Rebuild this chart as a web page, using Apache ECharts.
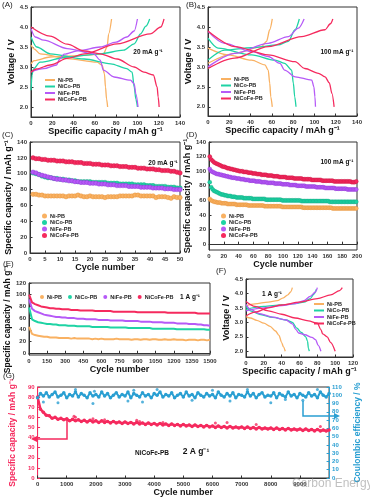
<!DOCTYPE html>
<html><head><meta charset="utf-8">
<script src="https://cdn.jsdelivr.net/npm/echarts@6/dist/echarts.min.js"></script>
<style>html,body{margin:0;padding:0;background:#fff}#c{width:370px;height:500px}</style>
</head><body><div id="c"></div>
<script>
// ---------------- DATA ----------------
const NAMES = ['Ni-PB', 'NiCo-PB', 'NiFe-PB', 'NiCoFe-PB'];

// (A) 20 mA g-1  [capacity, voltage]
const A_NI_CHG = [[0,3.08],[3,3.16],[18,3.25],[50,3.29],[68,3.33],[71.5,3.5],[73,3.83],[75.7,4.2]];
const A_NI_DIS = [[0,3.55],[3,3.45],[8.5,3.33],[34,3.21],[62,3.12],[67,3.04],[69,2.83],[70,2.5],[71,2.2],[72,2.0]];
const A_NICO_CHG = [[0,2.42],[1,2.8],[2.2,2.95],[8.5,3.12],[34,3.25],[65,3.33],[87,3.42],[97,3.58],[103,3.83],[108,4.02],[111.5,4.2]];
const A_NICO_DIS = [[0,3.75],[5.4,3.5],[18,3.33],[50,3.2],[75,3.08],[90,2.96],[95,2.87],[97,2.5],[98.5,2.2],[100,2.0]];
const A_NIFE_CHG = [[0,2.88],[12,2.96],[24,3.05],[27,3.2],[31,3.32],[45,3.41],[65,3.5],[80,3.62],[90,3.75],[97,3.9],[100,4.2]];
const A_NIFE_DIS = [[0,3.96],[4,3.75],[12,3.67],[34,3.46],[59,3.33],[65,3.17],[68,2.92],[78,2.75],[93.5,2.67],[97,2.58],[98.5,2.33],[100.6,2.0]];
const A_NICOFE_CHG = [[0,2.87],[5,2.95],[18,3.05],[35,3.22],[50,3.33],[81,3.58],[112,3.83],[122,4.0],[125,4.2]];
const A_NICOFE_DIS = [[0,4.0],[18,3.77],[34,3.57],[50,3.4],[65,3.33],[81,3.2],[97,3.0],[106,2.87],[115,2.8],[118.5,2.5],[119.5,2.25],[120.4,2.0]];

// (B) 100 mA g-1
const B_NI_CHG = [[0,3.09],[25,3.34],[50,3.5],[55,3.64],[58,3.93],[60.4,4.2]];
const B_NI_DIS = [[0,3.47],[19,3.3],[41,3.17],[53.5,3.05],[56.6,2.92],[58,2.59],[59,2.25],[60.4,2.0]];
const B_NICO_CHG = [[0,3.17],[15.7,3.42],[41,3.48],[66,3.55],[75.5,3.64],[81.8,3.93],[85.8,4.2]];
const B_NICO_DIS = [[0,3.72],[9.4,3.47],[41,3.3],[63,3.17],[72,3.09],[78.6,2.92],[80.2,2.59],[81.5,2.25],[82.7,2.0]];
const B_NIFE_CHG = [[0,3.0],[25,3.34],[56.6,3.59],[75.5,3.76],[85,3.97],[90.3,4.2]];
const B_NIFE_DIS = [[0,3.89],[15.7,3.59],[41,3.38],[56.6,3.26],[67.6,3.09],[72,2.92],[82,2.75],[97.5,2.67],[99.5,2.5],[100.5,2.25],[101,2.0]];
const B_NICOFE_CHG = [[0,2.96],[25,3.22],[56.6,3.51],[88,3.76],[110,3.93],[115,4.08],[117.3,4.2]];
const B_NICOFE_DIS = [[0,3.9],[25,3.51],[56.6,3.3],[81.8,3.13],[91,2.96],[103.8,2.84],[110,2.75],[114,2.6],[116.5,2.33],[118.5,2.0]];

// (C) 20 mA g-1 cycling, cycles 1..50
const C_NI = [74,74,73,73,72,72,72,72,72,72,72,71,72,72,72,73,72,71,71,72,71,71,71,71,70,71,71,71,71,72,72,72,72,72,73,73,72,72,72,72,72,70,71,71,71,70,69,71,70,70];
const C_NICO = [101,100,99,97,96,95,95,94,94,93,93,92,92,91,91,90,90,90,90,90,89,89,89,89,89,88,88,88,88,87,87,87,87,87,86,86,86,86,85,85,85,84,84,84,84,83,83,83,82,82];
const C_NIFE = [102,101,99,98,97,96,95,94,93,93,92,92,91,91,90,90,89,89,89,88,88,88,87,87,87,86,86,86,85,85,85,85,84,84,84,84,83,83,83,83,82,82,82,82,81,81,81,80,80,80];
const C_NICOFE = [120,119,119,118,118,117,117,117,116,116,116,115,115,115,114,114,114,113,113,113,112,112,112,111,111,111,110,110,110,109,109,109,108,108,108,107,107,107,106,106,106,105,105,104,104,104,103,103,102,101];

// (D) 100 mA g-1 cycling, every 2nd cycle (1,3,...,199)
const D_STEP = 2;
const D_NI = [62,60,59,58,58,57,57,57,56,56,56,56,55,55,55,55,55,55,54,54,54,54,54,54,54,54,53,53,53,53,53,53,53,53,53,53,53,52,52,52,52,52,52,52,52,52,52,52,52,51,51,51,51,51,51,51,51,51,51,51,51,51,51,50,50,50,50,50,50,50,50,50,50,50,50,50,50,50,50,50,50,50,50,49,49,49,49,49,49,49,49,49,49,49,49,49,49,49,49,49];
const D_NICO = [85,78,75,73,72,71,70,69,68,68,67,67,66,66,66,65,65,65,64,64,64,64,64,63,63,63,63,63,63,62,62,62,62,62,62,62,62,62,61,61,61,61,61,61,61,61,61,61,61,60,60,60,60,60,60,60,60,60,60,60,60,60,59,59,59,59,59,59,59,59,59,59,59,59,59,59,59,59,59,59,59,58,58,58,58,58,58,58,58,58,58,58,58,58,58,58,58,58,58,58];
const D_NIFE = [103,100,99,98,97,96,96,95,95,94,94,93,93,92,92,91,91,91,90,90,90,89,89,89,88,88,88,87,87,87,87,86,86,86,86,85,85,85,85,84,84,84,84,84,83,83,83,83,83,82,82,82,82,82,81,81,81,81,81,80,80,80,80,80,80,79,79,79,79,79,79,79,78,78,78,78,78,78,77,77,77,77,77,77,77,76,76,76,76,76,76,76,76,75,75,75,75,75,75,75];
const D_NICOFE = [120,116,114,112,111,110,109,108,107,106,106,105,104,104,103,103,102,102,101,101,100,100,100,99,99,99,98,98,98,97,97,97,96,96,96,95,95,95,95,94,94,94,94,93,93,93,93,92,92,92,92,92,91,91,91,91,91,90,90,90,90,90,90,89,89,89,89,89,89,88,88,88,88,88,88,88,87,87,87,87,87,87,87,87,86,86,86,86,86,86,86,86,86,86,86,86,85,85,85,86];

// (E) 1 A g-1 cycling, cycle 1 then every 25 cycles to 1500
const E_STEP = 25;
const E_NI = [45,33,31,30,29,28,28,27,27,27,26,26,26,26,25,26,25,25,25,25,25,24,25,24,25,24,24,24,24,25,24,24,24,24,23,24,24,23,24,24,23,24,24,23,23,24,23,23,24,23,23,23,22,23,23,23,22,23,23,22,23];
const E_NICO = [78,58,55,53,52,51,50,50,49,49,48,48,48,47,47,47,46,46,46,46,46,45,45,45,45,45,45,44,44,44,44,44,44,43,43,43,43,43,43,43,43,42,42,42,42,42,42,42,42,41,41,41,41,41,41,41,41,41,41,40,40];
const E_NIFE = [92,76,72,70,68,66,65,64,63,62,62,61,61,60,60,60,59,59,59,58,58,58,58,57,57,57,57,56,56,56,56,56,55,55,55,55,55,54,54,54,54,53,53,53,53,52,52,52,52,51,51,51,51,50,50,50,49,49,48,48,47];
const E_NICOFE = [100,87,84,82,80,79,78,77,77,76,76,75,75,75,74,74,74,73,73,73,73,73,72,72,72,72,72,72,71,71,71,71,71,71,71,71,70,70,70,70,70,70,70,70,70,70,69,69,69,69,69,69,69,69,69,69,68,68,68,68,68];

// (F) 1 A g-1 voltage profiles
const F_NI_CHG = [[0,3.58],[10,3.64],[25,3.7],[35,3.75],[42,3.85],[47,3.95],[50,4.05],[52,4.2]];
const F_NI_DIS = [[0,3.2],[5,3.15],[12,3.07],[20,2.97],[27,2.86],[33,2.7],[37,2.55],[40,2.3],[42,2.15],[44,2.0]];
const F_NICO_CHG = [[0,3.45],[20,3.55],[40,3.6],[55,3.65],[65,3.7],[72,3.82],[76,3.97],[79,4.15]];
const F_NICO_DIS = [[0,3.55],[5,3.4],[15,3.28],[30,3.17],[45,3.08],[52,3.0],[57,2.8],[62,2.65],[67,2.5],[69,2.35],[70,2.1],[71,2.0]];
const F_NIFE_CHG = [[0,3.4],[20,3.5],[40,3.58],[55,3.65],[65,3.75],[72,3.9],[78,4.05],[80,4.2]];
const F_NIFE_DIS = [[0,3.62],[5,3.45],[15,3.3],[30,3.18],[45,3.08],[52,2.95],[56,2.75],[59,2.63],[66,2.57],[74,2.48],[78,2.4],[81,2.2],[84,2.0]];
const F_NICOFE_CHG = [[0,3.22],[10,3.35],[25,3.5],[40,3.6],[60,3.7],[80,3.82],[95,3.95],[105,4.1],[108,4.2]];
const F_NICOFE_DIS = [[0,3.72],[10,3.55],[25,3.4],[40,3.28],[55,3.15],[70,3.05],[80,2.97],[84,2.75],[86,2.6],[91,2.5],[95,2.3],[100,2.0]];

// (G) 2 A g-1 long cycling NiCoFe-PB, cycle 1 then every 100 cycles to 10000
const G_STEP = 100;
const G_CAP = [80,68,65,62,61.5,59,60,58,59,57.5,58.5,56.5,58,56.5,57.5,56,57,55.5,57,55.5,56.5,55,56.5,55,56,54.5,56,54.5,55.5,54,55.5,54,55,53.5,55,53.5,54.5,53,54.5,53,54,52.5,54,52.5,53.5,52,53.5,52,53,51.5,53,51.5,52.5,51,52.5,51,52,50.5,52,50.5,51.5,50,51.5,50,51,49.5,51,49.5,50.5,49.5,50.5,49,50.5,49,50,48.5,50,48.5,49.5,48.5,49.5,48,49.5,48,49,47.5,49,47.5,48.5,47.5,48.5,47,48.5,47,48,46.5,48,46.5,47.5,46.5,47.5];
const G_CAP_OUT = [[1250,61],[1300,60],[1900,58.5],[2300,57.5],[3400,57],[3500,56],[4300,55],[6100,54.5],[6500,55],[7500,53],[9700,51]];
const G_CE = [97,102,99,103,98,101,104,98,100,103,97,101,99,104,98,102,100,97,103,99,101,98,104,99,102,97,100,103,98,101,99,104,97,102,100,98,103,99,101,97,102,100,104,98,101,99,103,97,100,102,98,104,99,101,97,103,100,98,102,99,101,97,104,100,98,102,99,103,97,101,100,98,104,99,102,97,101,103,98,100,99,103,97,102,100,98,104,99,101,97,102,100,98,103,99,101,97,104,100,98,102];
const G_CE_OUT = [[200,92],[700,91],[1300,107],[1900,90],[1950,105],[3100,93],[3300,106],[3600,92],[4100,107],[5300,94],[6000,106],[6600,93],[7200,107],[8000,91],[8500,95],[9100,94],[9600,107]];

// ---------------- STYLE ----------------
const COLORS = ['#F9B162', '#1ED3A4', '#B65AF7', '#F52A5E'];
const BORDERS = ['#E08A30', '#10A47E', '#8A2FD0', '#C8103F'];
const RED = '#F52A5E', BLUE = '#2A9FD2';
const FONT = '"Liberation Sans", Arial, sans-serif';

function grid(l, t, w, h) {
  return {left: l, top: t, width: w, height: h, show: true, borderColor: '#333', borderWidth: 1, backgroundColor: 'transparent'};
}
function baseAxis(gi, name, gap, color) {
  color = color || '#333';
  return {
    type: 'value', gridIndex: gi, name: name, nameLocation: 'middle', nameGap: gap,
    nameTextStyle: {fontFamily: FONT, fontSize: 9, fontWeight: 'bold', color: color === '#333' ? '#111' : color},
    axisLine: {show: true, lineStyle: {color: color, width: 1}},
    axisTick: {show: true, inside: true, length: 2.5, lineStyle: {color: color}},
    axisLabel: {fontFamily: FONT, fontSize: 6, fontWeight: 'bold', color: color, margin: 3, formatter: v => String(v)},
    splitLine: {show: false}
  };
}
function xAx(gi, min, max, iv, name, gap, hideMax) {
  const a = baseAxis(gi, name, gap);
  a.min = min; a.max = max; a.interval = iv;
  if (hideMax) a.axisLabel.showMaxLabel = false;
  return a;
}
function yAxCustom(gi, min, max, ticks, name, gap, dec) {
  const a = baseAxis(gi, name, gap);
  a.min = min; a.max = max;
  a.axisLabel.customValues = ticks;
  a.axisLabel.formatter = v => dec ? v.toFixed(dec) : String(v);
  a.axisTick.customValues = ticks;
  return a;
}
const V_TICKS = [2.0, 2.5, 3.0, 3.5, 4.0, 4.5];
const CAP_TICKS = [0, 20, 40, 60, 80, 100, 120, 140];
const SUB = 'Specific capacity / mAh g\u207B\u00B9';

function curve(gi, data, k) {
  return {type: 'line', name: NAMES[k], xAxisIndex: gi, yAxisIndex: gi, data: data,
    showSymbol: false, smooth: 0.3, smoothMonotone: 'x', lineStyle: {color: COLORS[k], width: 1.3},
    itemStyle: {color: COLORS[k]}, z: 2 + k, silent: true};
}
function dots(gi, vals, k, step, first, size) {
  return {type: 'scatter', name: NAMES[k], xAxisIndex: gi, yAxisIndex: gi,
    data: vals.map((v, i) => [first + i * step, v]), symbol: 'circle', symbolSize: size,
    itemStyle: {color: COLORS[k], borderColor: BORDERS[k], borderWidth: 0.4, opacity: 1}, z: 2 + k, silent: true};
}
function eline(gi, vals, k) {
  return {type: 'line', name: NAMES[k], xAxisIndex: gi, yAxisIndex: gi,
    data: vals.map((v, i) => [i === 0 ? 1 : i * E_STEP, v]), showSymbol: false,
    lineStyle: {color: COLORS[k], width: 2}, itemStyle: {color: COLORS[k]}, z: 2 + k, silent: true};
}

const series = [];
[[A_NI_CHG, A_NI_DIS], [A_NICO_CHG, A_NICO_DIS], [A_NIFE_CHG, A_NIFE_DIS], [A_NICOFE_CHG, A_NICOFE_DIS]]
  .forEach((p, k) => { series.push(curve(0, p[0], k), curve(0, p[1], k)); });
[[B_NI_CHG, B_NI_DIS], [B_NICO_CHG, B_NICO_DIS], [B_NIFE_CHG, B_NIFE_DIS], [B_NICOFE_CHG, B_NICOFE_DIS]]
  .forEach((p, k) => { series.push(curve(1, p[0], k), curve(1, p[1], k)); });
[C_NI, C_NICO, C_NIFE, C_NICOFE].forEach((v, k) => series.push(dots(2, v, k, 1, 1, 4.5)));
[D_NI, D_NICO, D_NIFE, D_NICOFE].forEach((v, k) => series.push(dots(3, v, k, D_STEP, 1, 4)));
[E_NI, E_NICO, E_NIFE, E_NICOFE].forEach((v, k) => series.push(eline(4, v, k)));
[[F_NI_CHG, F_NI_DIS], [F_NICO_CHG, F_NICO_DIS], [F_NIFE_CHG, F_NIFE_DIS], [F_NICOFE_CHG, F_NICOFE_DIS]]
  .forEach((p, k) => { series.push(curve(5, p[0], k), curve(5, p[1], k)); });
series.push({type: 'line', name: 'Capacity', xAxisIndex: 6, yAxisIndex: 6,
  data: G_CAP.map((v, i) => [i === 0 ? 1 : i * G_STEP, v]), symbol: 'circle', symbolSize: 3.5, showAllSymbol: true,
  lineStyle: {color: RED, width: 2.5}, itemStyle: {color: RED}, silent: true, z: 3});
series.push({type: 'scatter', name: 'Capacity', xAxisIndex: 6, yAxisIndex: 6, data: G_CAP_OUT,
  symbolSize: 3, itemStyle: {color: RED}, silent: true, z: 3});
series.push({type: 'line', name: 'CE', xAxisIndex: 6, yAxisIndex: 7,
  data: G_CE.map((v, i) => [i === 0 ? 1 : i * G_STEP, v]), symbol: 'circle', symbolSize: 3.5, showAllSymbol: true,
  lineStyle: {color: BLUE, width: 2}, itemStyle: {color: BLUE}, silent: true, z: 3});
series.push({type: 'scatter', name: 'CE', xAxisIndex: 6, yAxisIndex: 7, data: G_CE_OUT,
  symbolSize: 3, itemStyle: {color: BLUE}, silent: true, z: 3});

function legend(left, top, icon, w, h, orient, gap) {
  return {show: true, left: left, top: top, orient: orient || 'vertical', icon: icon, itemWidth: w, itemHeight: h,
    itemGap: gap == null ? 0.5 : gap, padding: 0, selectedMode: false, data: NAMES,
    textStyle: {fontFamily: FONT, fontSize: 5.5, fontWeight: 'bold', color: '#222', padding: [0, 0, 0, -2]}};
}
function txt(x, y, s, size, weight, color, align) {
  return {type: 'text', x: x, y: y, silent: true, z: 50,
    style: {text: s, fontFamily: FONT, fontSize: size, fontWeight: weight || 'bold', fill: color || '#111',
      align: align || 'center', verticalAlign: 'middle'}};
}

const gLeft = baseAxis(6, SUB, 13, RED);
Object.assign(gLeft, {min: 0, max: 90, interval: 10, position: 'left'});
gLeft.nameTextStyle.fontSize = 8.5;
const gRight = baseAxis(6, 'Coulombic efficiency / %', 14, BLUE);
Object.assign(gRight, {min: 0, max: 110, interval: 10, position: 'right'});
gRight.nameTextStyle.fontSize = 8.5;
const eLeft = yAxCustom(4, -3, 120, [0, 20, 40, 60, 80, 100, 120], SUB, 13, 0);
eLeft.nameTextStyle.fontSize = 8.5;

const option = {
  animation: false,
  backgroundColor: '#fff',
  grid: [
    grid(31, 7, 149, 110),
    grid(208, 7, 149, 109),
    grid(30, 142, 150, 111),
    grid(209, 142, 148, 108),
    grid(29, 283, 181, 72),
    grid(246, 279, 107, 78),
    grid(26, 387, 322, 91)
  ],
  xAxis: [
    xAx(0, 0, 140, 20, SUB, 8),
    xAx(1, 0, 140, 20, SUB, 8),
    xAx(2, 0, 50, 5, 'Cycle number', 9),
    xAx(3, 0, 200, 20, 'Cycle number', 9),
    xAx(4, 0, 1500, 150, 'Cycle number', 7),
    xAx(5, 0, 120, 20, SUB, 9),
    xAx(6, 0, 10000, 1000, 'Cycle number', 10, true)
  ],
  yAxis: [
    yAxCustom(0, 1.75, 4.5, V_TICKS, 'Voltage / V', 14, 1),
    yAxCustom(1, 1.77, 4.5, V_TICKS, 'Voltage / V', 14, 1),
    yAxCustom(2, 0, 140, CAP_TICKS, SUB, 13, 0),
    yAxCustom(3, -8, 140, CAP_TICKS, SUB, 14, 0),
    eLeft,
    yAxCustom(5, 1.8, 4.5, V_TICKS, 'Voltage / V', 12, 1),
    gLeft,
    gRight
  ],
  legend: [
    legend(45, 77, 'rect', 10, 2),
    legend(221, 76, 'rect', 10, 2),
    legend(42, 213, 'circle', 5, 5),
    legend(221, 213, 'circle', 5, 5),
    legend(40, 294, 'circle', 4, 4, 'horizontal', 6),
    legend(314, 301, 'rect', 10, 2)
  ],
  series: series,
  graphic: [
    txt(2, 5, '(A)', 8, 'normal', '#222', 'left'),
    txt(186, 5, '(B)', 8, 'normal', '#222', 'left'),
    txt(2, 135, '(C)', 8, 'normal', '#222', 'left'),
    txt(186, 135, '(D)', 8, 'normal', '#222', 'left'),
    txt(3, 264, '(E)', 8, 'normal', '#222', 'left'),
    txt(216, 271, '(F)', 8, 'normal', '#222', 'left'),
    txt(3, 376, '(G)', 8, 'normal', '#222', 'left'),
    txt(148, 52, '20 mA g\u207B\u00B9', 6.5),
    txt(337, 52, '100 mA g\u207B\u00B9', 6.5),
    txt(163, 163, '20 mA g\u207B\u00B9', 6.5),
    txt(337, 162, '100 mA g\u207B\u00B9', 6.5),
    txt(190, 297, '1 A g\u207B\u00B9', 6.5),
    txt(272, 294, '1 A g\u207B\u00B9', 6.5),
    txt(152, 453, 'NiCoFe-PB', 6.5),
    txt(196, 452, '2 A g\u207B\u00B9', 8.5),
    {type: 'polyline', silent: true, z: 40, shape: {points: [[67, 420], [67, 439], [36, 439]]}, style: {stroke: RED, lineWidth: 1.5, fill: null}},
    {type: 'polygon', silent: true, z: 40, shape: {points: [[31, 439], [37, 436], [37, 442]]}, style: {fill: RED}},
    {type: 'polyline', silent: true, z: 40, shape: {points: [[303, 401], [303, 416], [335, 416]]}, style: {stroke: BLUE, lineWidth: 1.5, fill: null}},
    {type: 'polygon', silent: true, z: 40, shape: {points: [[340, 416], [334, 413], [334, 419]]}, style: {fill: BLUE}},
    txt(292, 484, 'Carbon Energy', 12, 'normal', 'rgba(140,140,140,0.55)', 'left')
  ]
};

const chart = echarts.init(document.getElementById('c'), null, {renderer: 'canvas', width: 370, height: 500});
chart.setOption(option);
</script></body></html>
